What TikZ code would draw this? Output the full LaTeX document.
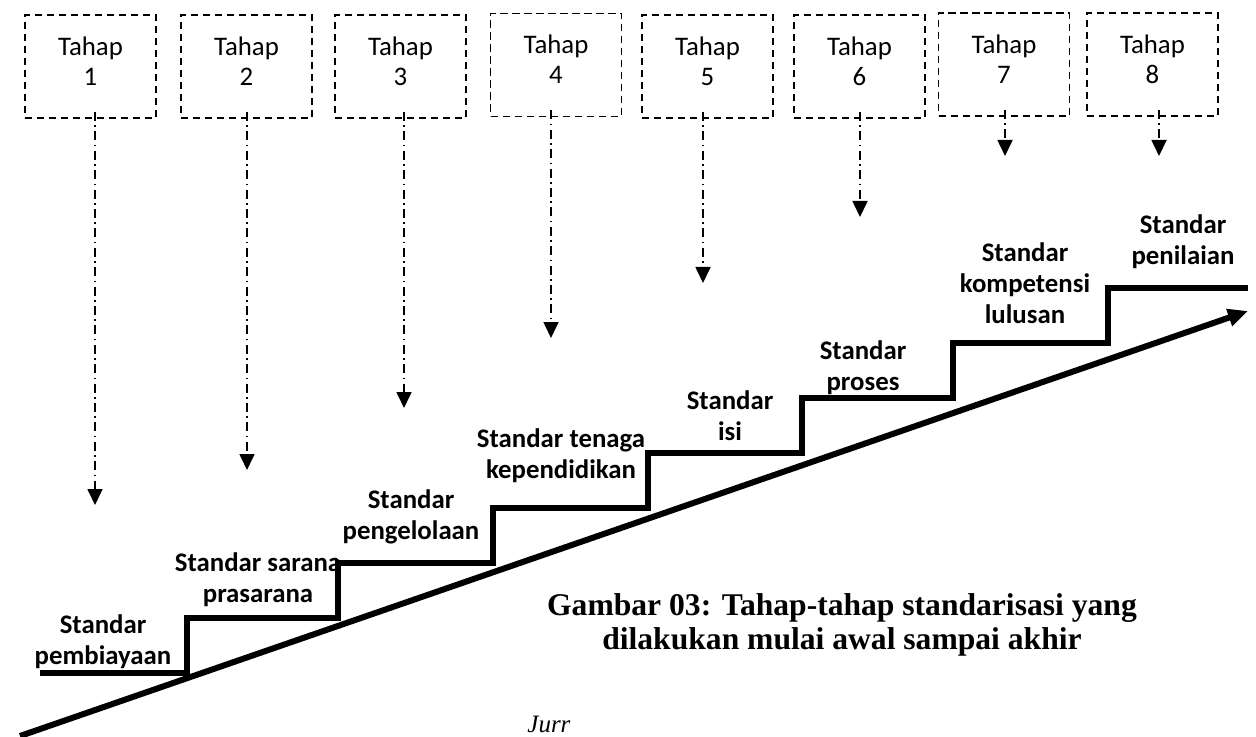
\documentclass[tikz,border=0pt]{standalone}
\usepackage{fontspec}
\setmainfont{Liberation Serif}
\newfontfamily\calibri{Carlito}
\usetikzlibrary{arrows.meta}
\tikzset{
 tahapbox/.style={draw, line width=0.9pt, dash pattern=on 3.6pt off 2.4pt, minimum width=65.5pt, minimum height=51.5pt, inner sep=0pt, outer sep=0pt, align=center, font=\calibri\fontsize{13.4}{15}\selectfont},
 drop/.style={line width=0.85pt, dash pattern=on 4.5pt off 2.2pt on 0.8pt off 2.2pt, shorten <=-3pt, -{Triangle[length=8pt,width=7.5pt]}},
 stdlabel/.style={align=center, inner sep=0pt, font=\calibri\bfseries\fontsize{13.4}{15.5}\selectfont},
 stair/.style={line width=3pt, line join=miter},
 bigarrow/.style={line width=3pt, -{Triangle[length=10pt,width=8.5pt]}},
 captext/.style={align=center, inner sep=0pt, font=\bfseries\fontsize{15.8}{17}\selectfont},
 jurtext/.style={anchor=base west, inner sep=0pt, font=\itshape\fontsize{12.5}{14}\selectfont}
}
\begin{document}
\begin{tikzpicture}[x=0.5pt,y=-0.5pt]
\useasboundingbox (0,0) rectangle (1256,737);
% stage boxes
\node[tahapbox] (t1) at (90.5,66.5) {Tahap\\1\rule[-5.5pt]{0pt}{0pt}};
\node[tahapbox] (t2) at (246.5,66.5) {Tahap\\2\rule[-5.5pt]{0pt}{0pt}};
\node[tahapbox] (t3) at (400.5,66.5) {Tahap\\3\rule[-5.5pt]{0pt}{0pt}};
\node[tahapbox] (t4) at (556,65) {Tahap\\4\rule[-5.5pt]{0pt}{0pt}};
\node[tahapbox] (t5) at (707.5,66.5) {Tahap\\5\rule[-5.5pt]{0pt}{0pt}};
\node[tahapbox] (t6) at (859.5,66.5) {Tahap\\6\rule[-5.5pt]{0pt}{0pt}};
\node[tahapbox] (t7) at (1004,64.5) {Tahap\\7\rule[-5.5pt]{0pt}{0pt}};
\node[tahapbox] (t8) at (1152.5,64.5) {Tahap\\8\rule[-5.5pt]{0pt}{0pt}};
% arrow ends
\coordinate (e1) at (95,505);
\coordinate (e2) at (247,470);
\coordinate (e3) at (404,408);
\coordinate (e4) at (551,338);
\coordinate (e5) at (703,283);
\coordinate (e6) at (860,217);
\coordinate (e7) at (1005,156);
\coordinate (e8) at (1159,156);
\foreach \i in {1,...,8} {\draw[drop] (t\i.south -| e\i) -- (e\i);}
% staircase
\draw[stair] (40,673) -- (187,673) -- (187,618) -- (338,618) -- (338,563) -- (493,563) -- (493,508) -- (648,508) -- (648,453) -- (802,453) -- (802,398) -- (953,398) -- (953,343) -- (1108,343) -- (1108,288) -- (1248,288);
% rising arrow
\coordinate (a0) at (20,736);
\coordinate (a1) at (1248,311);
\draw[bigarrow] (a0) -- (a1);
% labels
\node[stdlabel] (s1) at (103,642) {Standar\\pembiayaan};
\node[stdlabel] (s2) at (258,580) {Standar sarana\\prasarana};
\node[stdlabel] (s3) at (411,517) {Standar\\pengelolaan};
\node[stdlabel] (s4) at (561,456) {Standar tenaga\\kependidikan};
\node[stdlabel] (s5) at (730,416) {Standar\\isi};
\node[stdlabel] (s6) at (863,368) {Standar\\proses};
\node[stdlabel] (s7) at (1025,283) {Standar\\kompetensi\\lulusan};
\node[stdlabel] (s8) at (1183,242) {Standar\\penilaian};
% caption
\node[captext] (cap) at (842,625) {Gambar 03: Tahap-tahap standarisasi yang\\dilakukan mulai awal sampai akhir};
\node[jurtext] (jur) at (527,732) {Jurr};
\end{tikzpicture}
\end{document}
